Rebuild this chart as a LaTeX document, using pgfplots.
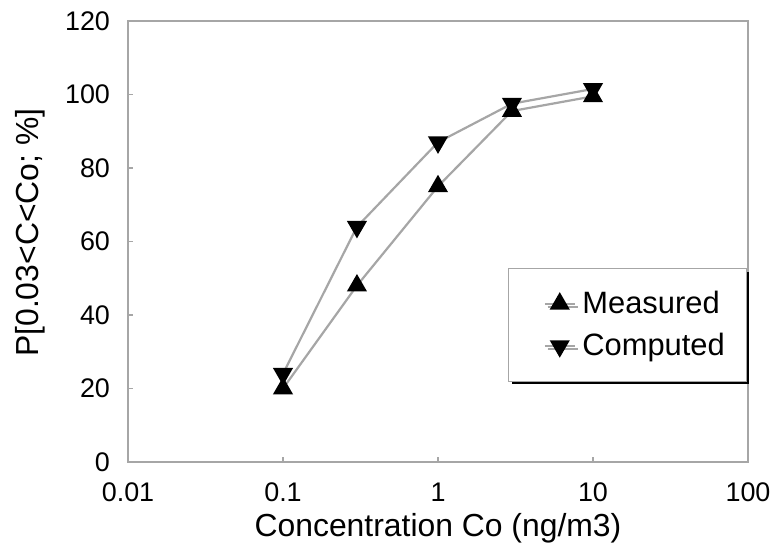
\documentclass[border=0pt]{standalone}
\usepackage{pgfplots}
\pgfplotsset{compat=1.18}
\usepackage{fontspec}
\setmainfont{Liberation Sans}
\usetikzlibrary{shadows}

\begin{document}
\begin{tikzpicture}
\begin{axis}[
  scale only axis,
  width=310bp, height=220.5bp,
  xmode=log,
  xmin=0.01, xmax=100,
  ymin=0, ymax=120,
  xtick={0.01,0.1,1,10,100},
  xticklabels={0.01,0.1,1,10,100},
  ytick={0,20,40,60,80,100,120},
  xminorticks=false, yminorticks=false,
  tick align=inside,
  xtick pos=bottom, ytick pos=left,
  major tick length=2.5bp,
  axis line style={gray!70, line width=0.8bp},
  every tick/.style={gray!70, line width=0.6bp},
  tick label style={font=\fontsize{13.5}{15}\selectfont},
  xticklabel style={yshift=-7bp},
  yticklabel style={xshift=-5.5bp},
  /pgf/number format/assume math mode=true,
  label style={font=\fontsize{16}{18}\selectfont},
  xlabel={Concentration Co (ng/m3)},
  ylabel={P[0.03<C<Co; \%]},
  xlabel style={at={([yshift=-22bp]axis description cs:0.5,0)}, anchor=north},
  ylabel style={at={([xshift=-49bp]axis description cs:0,0.52)}, anchor=center},
  legend style={at={(0.613,0.44)}, anchor=north west,
    draw=gray!70, line width=0.6bp, fill=white,
    drop shadow={shadow xshift=1.5bp, shadow yshift=-1.5bp, fill=black, opacity=1},
    font=\fontsize{15.5}{18}\selectfont,
    nodes={inner sep=3.25bp},
    inner xsep=7.5bp, inner ysep=8bp, row sep=2bp},
  legend cell align=left,
  legend image code/.code={
    \path (-10bp,0bp);
    \draw[mark repeat=2, mark phase=2] plot coordinates {(0bp,0bp) (7.5bp,0bp) (15bp,0bp)};
  },
]
% measured (triangle up)
\addplot[gray!70, line width=1.1bp, mark=triangle*, mark size=4.7bp,
  mark options={fill=black, draw=black, solid}] coordinates {
  (0.1,20) (0.3,48) (1,75) (3,95.5) (10,99.5)
};
\addlegendentry{Measured}
% computed (triangle down)
\addplot[gray!70, line width=1.1bp, mark=triangle*, mark size=4.7bp,
  mark options={fill=black, draw=black, solid, rotate=180}] coordinates {
  (0.1,24) (0.3,64) (1,87) (3,97.5) (10,101.5)
};
\addlegendentry{Computed}
\end{axis}
\pgfresetboundingbox
\path[use as bounding box] (-64bp,-43.5bp) rectangle (323.5bp,231bp);
\end{tikzpicture}
\end{document}
